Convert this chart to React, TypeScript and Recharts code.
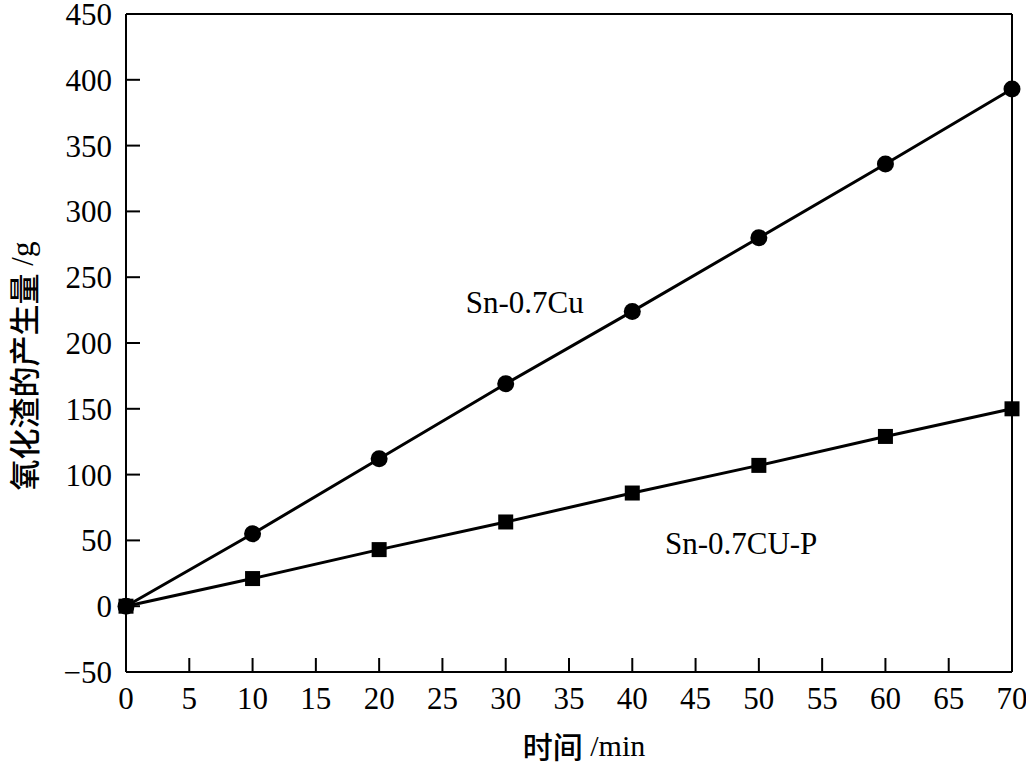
import React from 'react';
import { LineChart, Line, XAxis, YAxis, ReferenceLine, ReferenceDot, Label } from 'recharts';

const times = [0, 10, 20, 30, 40, 50, 60, 70];
const snCu = [0, 55, 112, 169, 224, 280, 336, 393];
const snCuP = [0, 21, 43, 64, 86, 107, 129, 150];
const xTicks = [0, 5, 10, 15, 20, 25, 30, 35, 40, 45, 50, 55, 60, 65, 70];
const yTicks = [-50, 0, 50, 100, 150, 200, 250, 300, 350, 400, 450];

const data = times.map((t, i) => ({ t, a: snCu[i], b: snCuP[i] }));

const FONT = "'Liberation Serif', 'Noto Sans CJK SC', serif";
const CJK = "'Noto Sans CJK SC', sans-serif";

const SquareDot = (props: any) => {
  const { cx, cy, index } = props;
  if (cx == null || cy == null) return <g key={`s${index}`} />;
  return <rect key={`s${index}`} x={cx - 7.5} y={cy - 7.5} width={15} height={15} fill="#000" />;
};

const CircleDot = (props: any) => {
  const { cx, cy, index } = props;
  if (cx == null || cy == null) return <g key={`c${index}`} />;
  return <circle key={`c${index}`} cx={cx} cy={cy} r={8.5} fill="#000" />;
};

const YTick = (props: any) => {
  const { x, y, payload } = props;
  const v = payload.value as number;
  const label = v < 0 ? `\u2212${Math.abs(v)}` : `${v}`;
  const y0 = Math.max(y, 13);
  return (
    <text x={x} y={y0} dy="0.355em" textAnchor="end" fontSize={31} fontFamily={FONT} fill="#000">
      {label}
    </text>
  );
};

export default function App() {
  return (
    <div style={{ position: 'absolute', left: 0, top: 0, background: '#fff' }}>
      <LineChart width={1026} height={767} data={data} margin={{ top: 14, right: 14, bottom: 0, left: 0 }}>
        <XAxis
          dataKey="t"
          type="number"
          domain={[0, 70]}
          ticks={xTicks}
          interval={0}
          height={95}
          tickSize={-14}
          tickMargin={29}
          axisLine={{ stroke: '#000', strokeWidth: 2 }}
          tickLine={{ stroke: '#000', strokeWidth: 2 }}
          tick={{ fill: '#000', fontSize: 31, fontFamily: FONT }}
        >
          <Label
            content={() => (
              <text x={584} y={745} textAnchor="middle" dominantBaseline="central" fontSize={30} fontFamily={FONT} fill="#000">
                <tspan fontFamily={CJK} fontWeight={500}>时间</tspan>
                <tspan> /min</tspan>
              </text>
            )}
          />
        </XAxis>
        <YAxis
          type="number"
          domain={[-50, 450]}
          ticks={yTicks}
          interval={0}
          width={126}
          tickSize={-14}
          tickMargin={28}
          axisLine={{ stroke: '#000', strokeWidth: 2 }}
          tickLine={{ stroke: '#000', strokeWidth: 2 }}
          tick={YTick}
        >
          <Label
            content={() => (
              <text
                x={22}
                y={366}
                textAnchor="middle"
                dominantBaseline="central"
                fontSize={31}
                fontFamily={FONT}
                fill="#000"
                transform="rotate(-90 22 366)"
              >
                <tspan fontFamily={CJK} fontWeight={500}>氧化渣的产生量</tspan>
                <tspan> /g</tspan>
              </text>
            )}
          />
        </YAxis>
        <ReferenceLine y={450} stroke="#000" strokeWidth={2} />
        <ReferenceLine x={70} stroke="#000" strokeWidth={2} />
        <Line
          dataKey="a"
          stroke="#000"
          strokeWidth={3}
          dot={CircleDot}
          activeDot={false}
          isAnimationActive={false}
        />
        <Line
          dataKey="b"
          stroke="#000"
          strokeWidth={3}
          dot={SquareDot}
          activeDot={false}
          isAnimationActive={false}
        />
        <ReferenceDot x={31.5} y={231} r={0} stroke="none" fill="none">
          <Label value="Sn-0.7Cu" position="center" fontSize={31} fontFamily={FONT} fill="#000" />
        </ReferenceDot>
        <ReferenceDot x={48.6} y={48} r={0} stroke="none" fill="none">
          <Label value="Sn-0.7CU-P" position="center" fontSize={31} fontFamily={FONT} fill="#000" />
        </ReferenceDot>
      </LineChart>
    </div>
  );
}
